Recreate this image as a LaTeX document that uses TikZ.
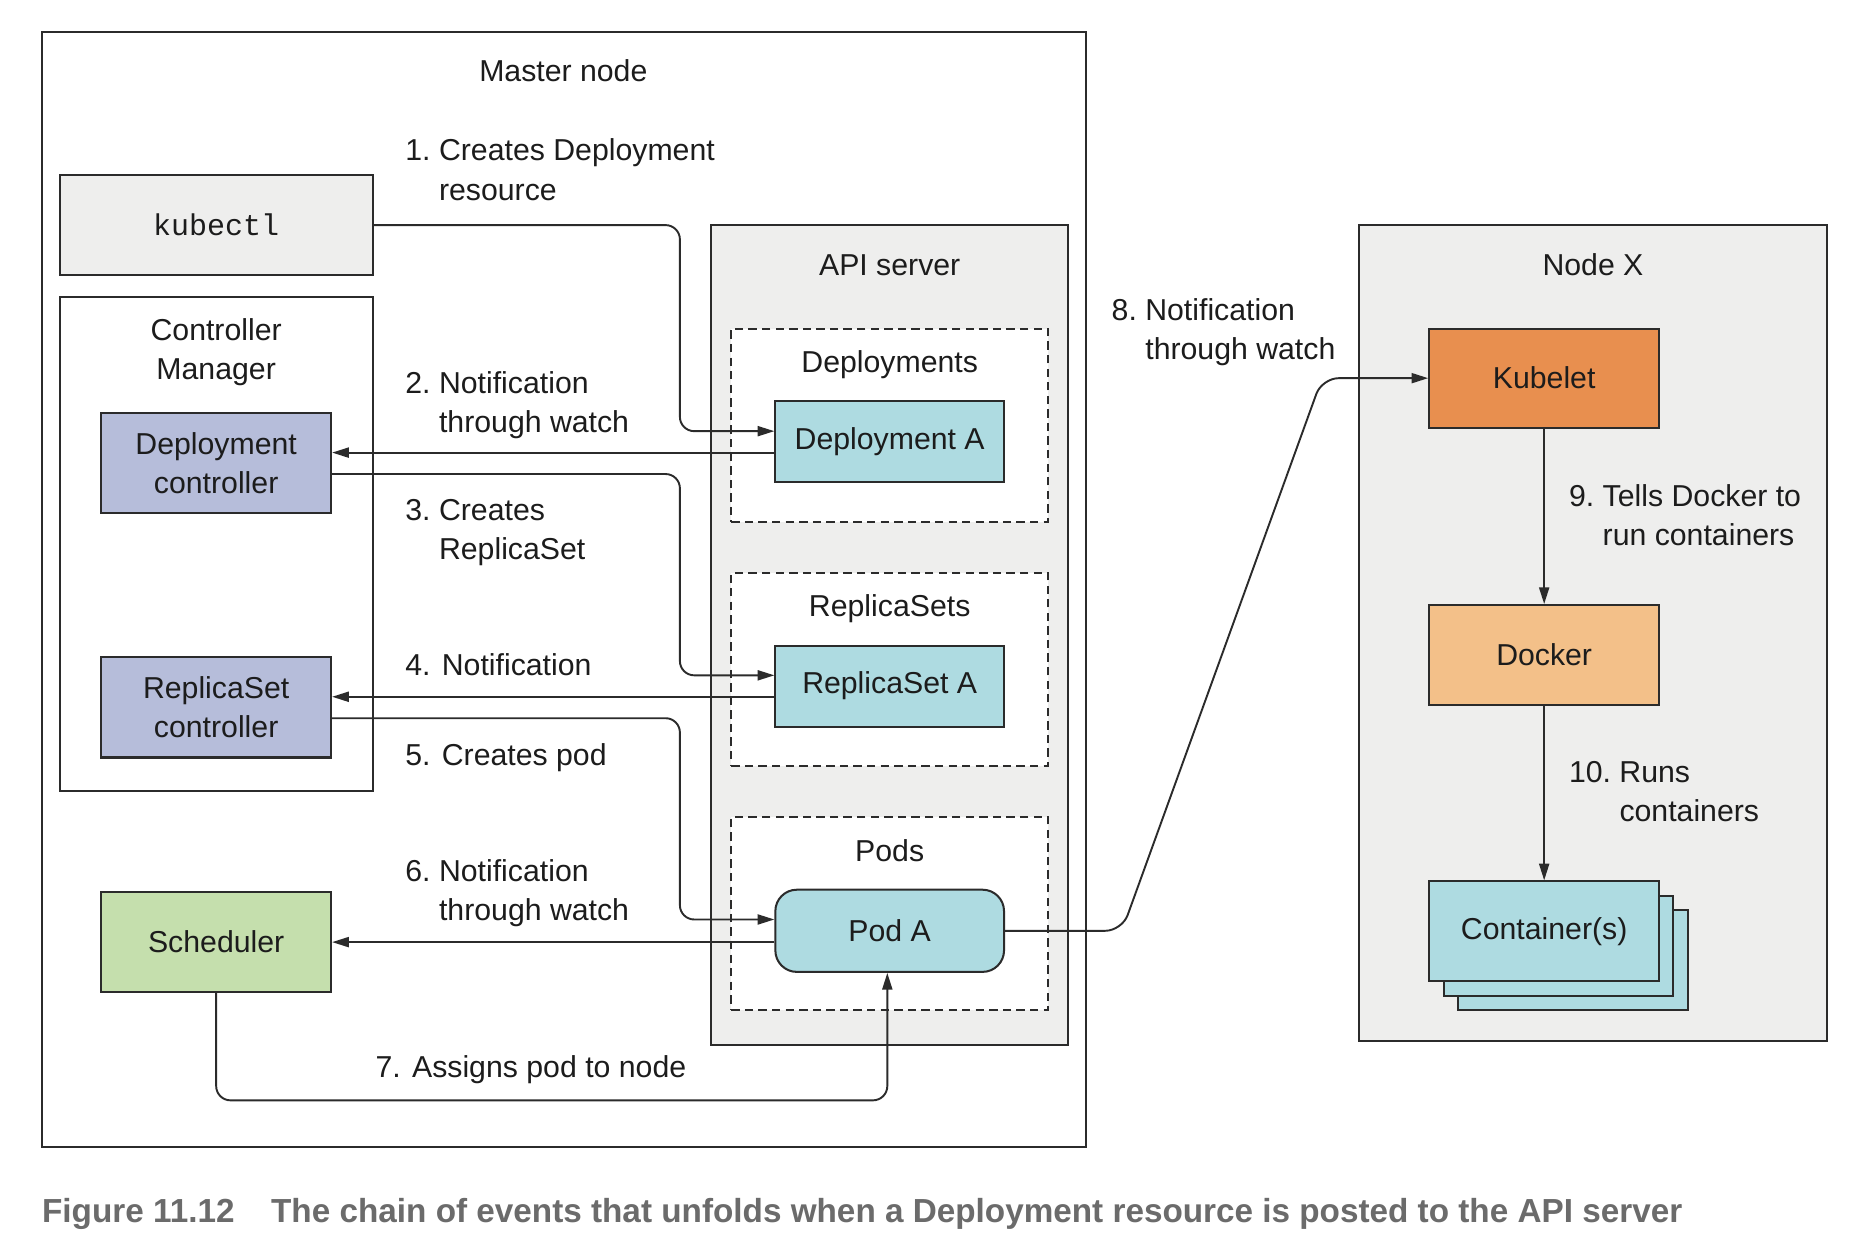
\documentclass[tikz,border=0pt]{standalone}
\usepackage{fontspec}
\usepackage{graphicx}
\setmainfont{Liberation Sans}
\setmonofont{Liberation Mono}
\usetikzlibrary{arrows.meta,calc}
\definecolor{linec}{HTML}{2B2B2B}
\definecolor{txtc}{HTML}{1C1C1C}
\definecolor{grayfill}{HTML}{EEEEED}
\definecolor{lav}{HTML}{B6BDDA}
\definecolor{grn}{HTML}{C5DFAD}
\definecolor{cyn}{HTML}{AEDBE1}
\definecolor{org}{HTML}{E88F4F}
\definecolor{lorg}{HTML}{F3C089}
\definecolor{capgray}{HTML}{6B6B6B}
\newcommand\mainf{\fontsize{12.7}{16.5}\selectfont}
\newcommand\numlbl[3]{\begin{tabular}[t]{@{}l@{}l@{}}\mbox{#1\ }&#2\\&#3\end{tabular}}
\tikzset{
  bx/.style={draw=linec, line width=0.85pt, inner sep=0pt, align=center, font=\mainf, text=txtc},
  dsh/.style={draw=linec, line width=0.7pt, dash pattern=on 3.5pt off 2.2pt, inner sep=0pt},
  lbl/.style={inner sep=0pt, font=\mainf, text=txtc, anchor=base west},
  ttl/.style={inner sep=0pt, font=\mainf, text=txtc, anchor=base},
  arr/.style={draw=linec, line width=0.8pt, -{Triangle[length=7pt,width=4.2pt]}},
  bigbox/.style={minimum width=131.5pt, minimum height=42pt},
  ctl/.style={minimum width=96.5pt, minimum height=42pt},
  inbox/.style={minimum width=96pt, minimum height=34pt},
  grp/.style={minimum width=133pt, minimum height=81pt},
}
\begin{document}
\begin{tikzpicture}[x=0.5pt,y=-0.5pt]
\useasboundingbox[fill=white] (0,0) rectangle (1560,1041.1);
% Master node
\node[bx, fill=white, minimum width=438.5pt, minimum height=468pt] (master) at (473.5,495) {};
\node[ttl] (mtitle) at (473,68) {Master node};
% kubectl
\node[bx, bigbox, fill=grayfill, font=\ttfamily\fontsize{12.6}{15}\selectfont] (kub) at (181.5,189) {kubectl};
% Controller manager
\node[bx, fill=white, minimum width=131.5pt, minimum height=207.5pt] (cm) at (181.5,456.5) {};
\node[ttl] (cmtitle) at (181.5,286) {\begin{tabular}[t]{@{}c@{}}Controller\\Manager\end{tabular}};
\node[bx, ctl, fill=lav] (dc) at (181.5,389) {Deployment\\controller};
\node[bx, ctl, fill=lav] (rc) at (181.5,594) {ReplicaSet\\controller};
\node[bx, ctl, fill=grn] (sch) at (181.5,791) {Scheduler};
% API server
\node[bx, fill=grayfill, minimum width=150pt, minimum height=344pt] (api) at (747,533) {};
\node[ttl] (apititle) at (747,231) {API server};
\node[dsh, grp, fill=white] (deps) at (747,357) {};
\node[ttl] (depst) at (747,313) {Deployments};
\node[bx, inbox, fill=cyn] (dA) at (747,371) {Deployment A};
\node[dsh, grp, fill=white] (rss) at (747,562) {};
\node[ttl] (rsst) at (747,518) {ReplicaSets};
\node[bx, inbox, fill=cyn] (rA) at (747,576) {ReplicaSet A};
\node[dsh, grp, fill=white] (pods) at (747,767) {};
\node[ttl] (podst) at (747,723) {Pods};
\node[bx, inbox, minimum height=34.5pt, fill=cyn, rounded corners=9pt] (pA) at (747,781.5) {Pod A};
% Node X
\node[bx, fill=grayfill, minimum width=196.5pt, minimum height=342.5pt] (nx) at (1337.5,531.5) {};
\node[ttl] (nxt) at (1337.5,231) {Node X};
\node[bx, ctl, minimum height=41.5pt, fill=org] (kl) at (1296.5,317.5) {Kubelet};
\node[bx, ctl, fill=lorg] (dk) at (1296.5,550) {Docker};
\node[bx, ctl, fill=cyn] (c3) at (1320.5,806) {};
\node[bx, ctl, fill=cyn] (c2) at (1308.5,794) {};
\node[bx, ctl, fill=cyn] (c1) at (1296.5,782) {Container(s)};
% connectors
\draw[arr, rounded corners=6pt] (kub.east) -- ++(257,0) |- ($(dA.west)+(0,-9)$);
\draw[arr] ($(dA.west)+(0,9)$) -- ($(dc.east)+(0,-9)$);
\draw[arr, rounded corners=6pt] ($(dc.east)+(0,9)$) -- ++(292,0) |- ($(rA.west)+(0,-9)$);
\draw[arr] ($(rA.west)+(0,9)$) -- ($(rc.east)+(0,-9)$);
\draw[arr, rounded corners=6pt] ($(rc.east)+(0,9)$) -- ++(292,0) |- ($(pA.west)+(0,-9.5)$);
\draw[arr] ($(pA.west)+(0,9.5)$) -- (sch.east);
\draw[arr, rounded corners=6pt] (sch.south) -- ++(0,90) -| ($(pA.south)+(-2,0)$);
\draw[arr, rounded corners=7pt] (pA.east) -- (942,781.5) -- (1110,317.5) -- (kl.west);
\draw[arr] (kl.south) -- (dk.north);
\draw[arr] (dk.south) -- (c1.north);
% labels
\node[lbl] (l1) at (340,135) {\numlbl{1.}{Creates Deployment}{resource}};
\node[lbl] (l2) at (340,330) {\numlbl{2.}{Notification}{through watch}};
\node[lbl] (l3) at (340,437) {\numlbl{3.}{Creates}{ReplicaSet}};
\node[lbl] (l4) at (340,567) {4. Notification};
\node[lbl] (l5) at (340,643) {5. Creates pod};
\node[lbl] (l6) at (340,740) {\numlbl{6.}{Notification}{through watch}};
\node[lbl] (l7) at (315,905) {7. Assigns pod to node};
\node[lbl] (l8) at (933,269) {\numlbl{8.}{Notification}{through watch}};
\node[lbl] (l9) at (1317,425) {\numlbl{9.}{Tells Docker to}{run containers}};
\node[lbl] (l10) at (1317,657) {\numlbl{10.}{Runs}{containers}};
% caption
\node[anchor=base west, inner sep=0pt, text=capgray] (cap) at (35,1026)
  {\resizebox{688.5pt}{\height}{\bfseries\fontsize{14}{16}\selectfont Figure 11.12\hspace{1.1em}The chain of events that unfolds when a Deployment resource is posted to the API server}};
\end{tikzpicture}
\end{document}
